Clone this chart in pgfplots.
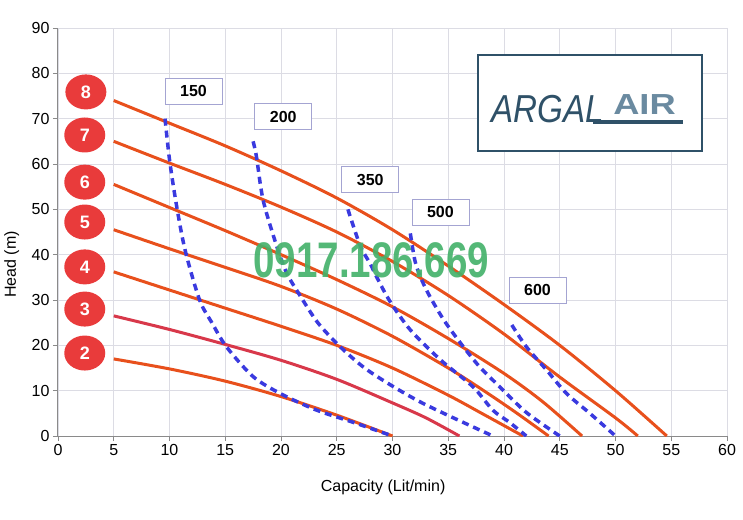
\documentclass[border=0pt]{standalone}
\usepackage{fontspec}
\setmainfont{Liberation Sans}
\usepackage{pgfplots}
\pgfplotsset{compat=1.18}
\usetikzlibrary{shapes.geometric}

\definecolor{pumpline}{HTML}{E8501C}
\definecolor{pumpred}{HTML}{D8384A}
\definecolor{airblue}{HTML}{3A3ADF}
\definecolor{numred}{HTML}{E93B3B}
\definecolor{gridgray}{HTML}{DCDCE4}
\definecolor{axisgray}{HTML}{8A8A8A}
\definecolor{boxedge}{HTML}{A4A4D2}
\definecolor{wmgreen}{HTML}{45B26B}
\definecolor{logodark}{HTML}{2F5168}
\definecolor{logolight}{HTML}{6A8AA0}

\tikzset{
    numc/.style={ellipse, fill=numred, text=white, font=\fontsize{18}{20}\selectfont\bfseries,
        minimum width=41pt, minimum height=35pt, inner sep=0pt},
    airbox/.style={draw=boxedge, fill=white, line width=0.8pt, font=\fontsize{16}{19}\selectfont\bfseries,
        minimum width=57pt, minimum height=26pt, inner sep=0pt},
    pump/.style={pumpline, line width=3pt, smooth, tension=0.5},
    air/.style={airblue, line width=3.5pt, dash pattern=on 7pt off 5pt, smooth, tension=0.5},
}

\begin{document}
\begin{tikzpicture}[font=\fontsize{16}{19}\selectfont]
\begin{axis}[
    at={(0,0)}, anchor=south west,
    scale only axis, width=669pt, height=408pt,
    xmin=0, xmax=60, ymin=0, ymax=90,
    xtick={0,5,...,60}, ytick={0,10,...,90},
    axis x line*=bottom, axis y line*=left,
    axis line style={draw=axisgray, line width=1pt},
    tick align=outside, major tick length=5pt,
    tick style={axisgray, line width=0.8pt},
    grid=major, grid style={gridgray, line width=0.8pt},
    /pgf/number format/assume math mode=true,
    ticklabel style={font=\fontsize{16}{19}\selectfont},
    xlabel={Capacity (Lit/min)}, ylabel={Head (m)},
    xlabel style={at={(axis description cs:0.486,-0.125)}, anchor=center},
    ylabel style={at={(axis description cs:-0.069,0.42)}, anchor=center},
]
% pump curves (air pressure 2..8 bar)
\addplot[pump] coordinates {(5,17) (10,14.8) (15,12.1) (20,8.7) (25,4.6) (30,0)};
\addplot[pump, pumpred] coordinates {(5,26.5) (10,23.5) (15,20.2) (20,16.7) (25,12.5) (30,7.3) (33,4) (36,0)};
\addplot[pump] coordinates {(5,36.2) (10,32.2) (15,28.2) (20,24.2) (25,20) (30,15) (35,9) (38,5) (41.7,0)};
\addplot[pump] coordinates {(5,45.5) (10,41.3) (15,37.2) (20,33) (25,28) (30,22) (35,15) (38,10.3) (41,5.3) (44,0)};
\addplot[pump] coordinates {(5,55.5) (10,50.4) (15,45.3) (20,40) (25,34.5) (30,28.5) (35,21.5) (40,13.8) (43.5,7.5) (47,0)};
\addplot[pump] coordinates {(5,65) (10,60.2) (15,55.5) (20,50.5) (25,45) (30,38.5) (35,31) (40,22.5) (45,13) (50,4) (52,0)};
\addplot[pump] coordinates {(5,74) (10,69) (15,64) (20,58.5) (25,52.5) (30,45.5) (35,37.5) (40,29) (45,20) (50,10) (54.6,0)};
% air consumption curves
\addplot[air] coordinates {(9.6,70) (10,61) (10.6,51.3) (11.4,41) (12.7,30) (13.8,25) (15.1,19.7) (17.5,13.1) (20,9.3) (23.2,5.7) (26.5,3) (30,0)};
\addplot[air] coordinates {(17.5,65) (17.8,61.6) (18.4,52) (19.6,42) (20.5,36) (21.7,31) (23.3,25) (25.3,19.7) (27.5,15) (30,11) (32.5,7.5) (35.2,4.3) (39,0)};
\addplot[air] coordinates {(26,50) (27.1,42) (28,38) (28.7,34.5) (29.8,29.6) (31.6,23.4) (34.3,16.8) (37.2,10.9) (39,5.7) (40.5,3) (42,0)};
\addplot[air] coordinates {(31.6,44.7) (32,38.8) (32.5,35.1) (33.3,31) (34.6,25.6) (36.1,20.5) (37.8,15.3) (39.6,10.9) (42,5.2) (45,0)};
\addplot[air] coordinates {(40.7,24.5) (42,19.7) (43.8,14.6) (45.6,9.4) (47.7,5) (50,0)};

% labels of the air consumption curves
\node[airbox] at (axis cs:12.15,76.1) {150};
\node[airbox] at (axis cs:20.2,70.4) {200};
\node[airbox] at (axis cs:28.0,56.5) {350};
\node[airbox] at (axis cs:34.3,49.4) {500};
\node[airbox] at (axis cs:43.0,32.2) {600};

% labels of the pump curves
\node[numc] at (axis cs:2.5,75.9) {8};
\node[numc] at (axis cs:2.4,66.4) {7};
\node[numc] at (axis cs:2.4,56.0) {6};
\node[numc] at (axis cs:2.4,47.2) {5};
\node[numc] at (axis cs:2.4,37.3) {4};
\node[numc] at (axis cs:2.4,28.0) {3};
\node[numc] at (axis cs:2.4,18.3) {2};

% logo
\node[draw=logodark, fill=white, line width=2.5pt, minimum width=224pt, minimum height=96pt]
    at (axis cs:47.7,73.5) {};
\node[text=logodark, font=\fontsize{39}{41}\selectfont\itshape, xscale=0.85, inner sep=0pt]
    at (axis cs:43.9,72.1) {ARGAL};
\node[text=logolight, font=\fontsize{29}{31}\selectfont\bfseries, xscale=1.25, inner sep=0pt]
    at (axis cs:52.6,73.1) {AIR};
\draw[logodark, line width=4pt] (axis cs:48.0,69.3) -- (axis cs:56.05,69.3);

% watermark
\node[text=wmgreen, opacity=0.92, font=\fontsize{50}{52}\selectfont\bfseries, xscale=0.77, inner sep=0pt]
    at (axis cs:28.1,38.8) {0917.186.669};
\end{axis}
\pgfresetboundingbox
\path (-58pt,-83pt) rectangle (685pt,436pt);
\end{tikzpicture}
\end{document}
